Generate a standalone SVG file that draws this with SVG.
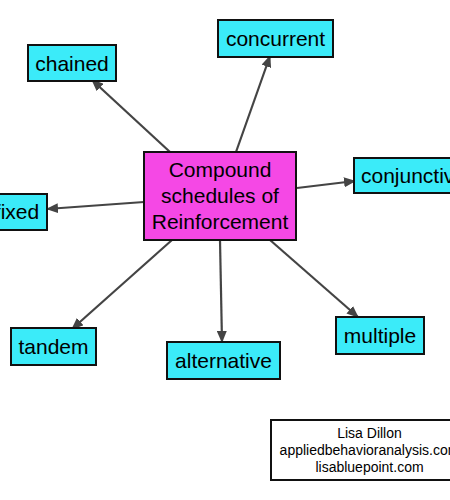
<svg xmlns="http://www.w3.org/2000/svg" width="450" height="500" viewBox="0 0 450 500">
<style>
.leaf rect{fill:#3BEBF9;stroke:#111;stroke-width:2}
.hub rect{fill:#F548E5;stroke:#111;stroke-width:2}
.credit rect{fill:#fff;stroke:#111;stroke-width:2}
text{font-family:"Liberation Sans",Arial,sans-serif;fill:#000;text-anchor:middle}
.leaf text,.hub text{font-size:21px}
.credit text{font-size:14px}
#edges line{stroke:#444;stroke-width:2.2;marker-end:url(#ah)}
</style>
<defs>
<marker id="ah" markerUnits="userSpaceOnUse" markerWidth="12" markerHeight="10" refX="11" refY="5" orient="auto">
<path d="M0,0 L12,5 L0,10 Z" fill="#444"/>
</marker>
</defs>
<rect width="450" height="500" fill="#fff"/>
<g id="edges">
<line x1="170" y1="152" x2="92" y2="80"/>
<line x1="236" y1="152" x2="270" y2="56"/>
<line x1="297" y1="188" x2="355" y2="181"/>
<line x1="144" y1="202" x2="47" y2="209"/>
<line x1="172" y1="240" x2="72" y2="329"/>
<line x1="220" y1="240" x2="222" y2="342"/>
<line x1="270" y1="240" x2="358" y2="317"/>
</g>
<g id="hub" class="hub"><rect x="144" y="152" width="152" height="88"/>
<text x="220" y="176.5">Compound</text><text x="220" y="202.5">schedules of</text><text x="220" y="228.5">Reinforcement</text></g>
<g id="chained" class="leaf"><rect x="28" y="45" width="88" height="36"/><text x="72" y="70.5">chained</text></g>
<g id="concurrent" class="leaf"><rect x="218" y="20" width="115" height="37"/><text x="275.5" y="46">concurrent</text></g>
<g id="conjunctive" class="leaf"><rect x="354" y="158" width="120" height="35"/><text x="413.5" y="183">conjunctive</text></g>
<g id="fixed" class="leaf"><rect x="-13" y="194" width="60" height="36"/><text x="17" y="219">fixed</text></g>
<g id="tandem" class="leaf"><rect x="11" y="328" width="85" height="37"/><text x="53.5" y="354">tandem</text></g>
<g id="alternative" class="leaf"><rect x="167" y="342" width="113" height="37"/><text x="223.5" y="368">alternative</text></g>
<g id="multiple" class="leaf"><rect x="336" y="317" width="88" height="37"/><text x="380" y="343">multiple</text></g>
<g id="credit" class="credit"><rect x="271" y="420" width="197" height="60"/>
<text x="369.5" y="438">Lisa Dillon</text><text x="369.5" y="455">appliedbehavioranalysis.com</text><text x="369.5" y="472">lisabluepoint.com</text></g>
</svg>
